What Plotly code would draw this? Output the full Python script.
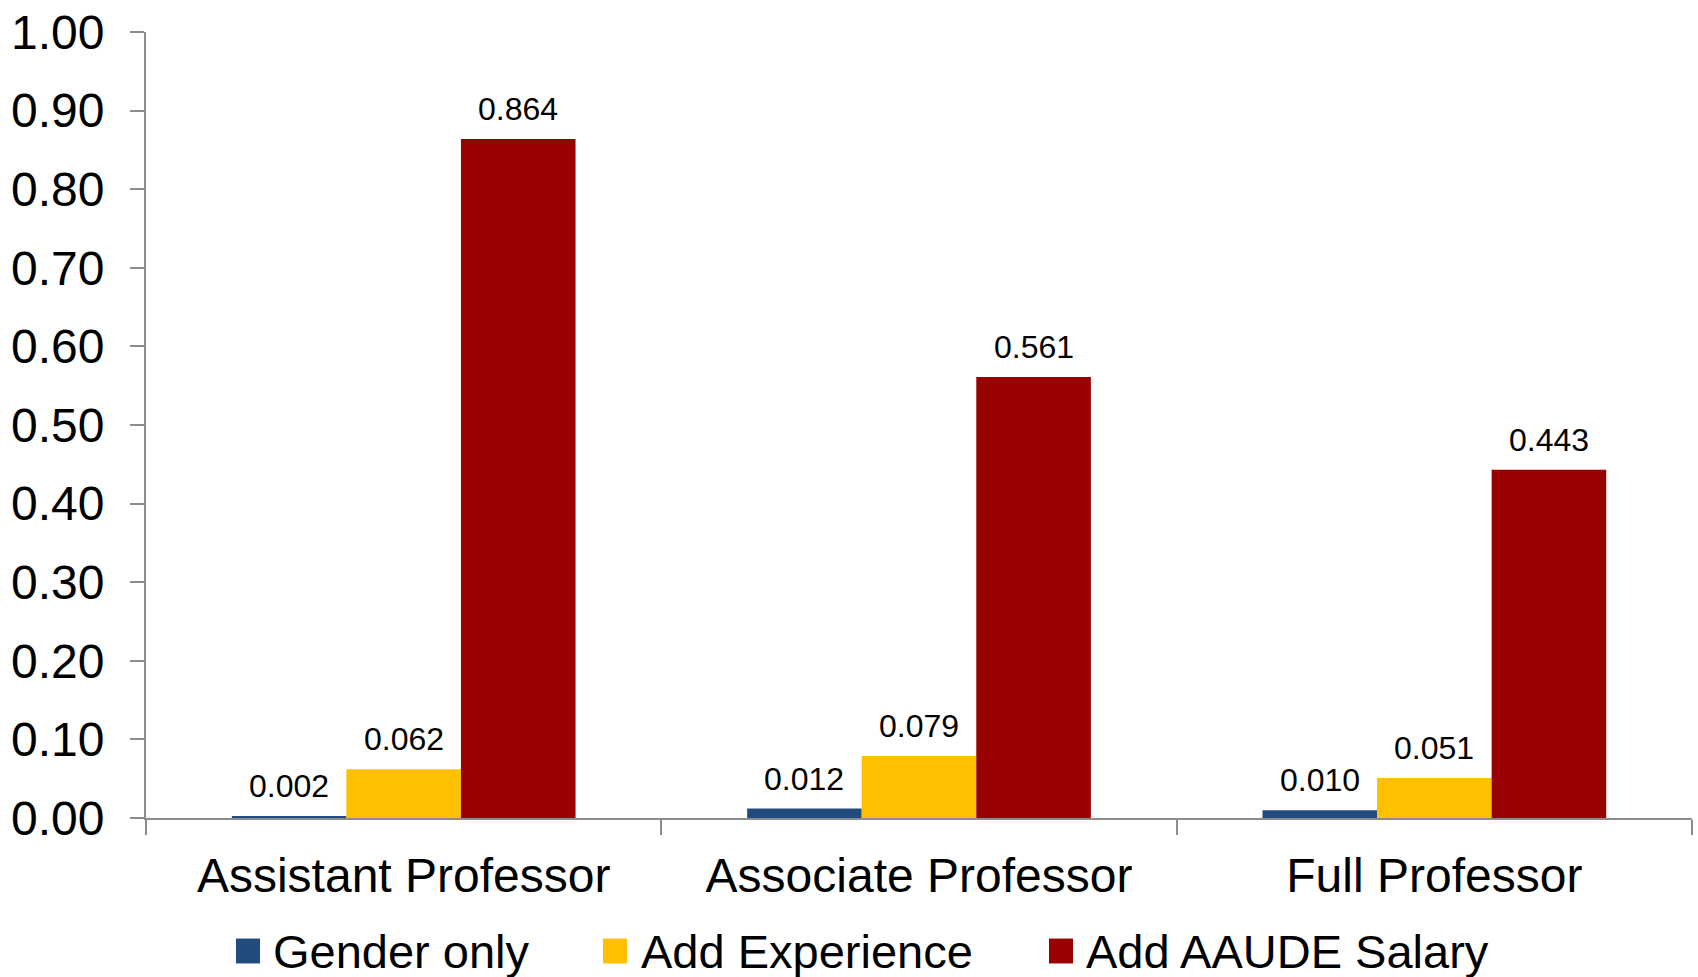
import plotly.graph_objects as go

# Ranks on the category axis
categories = ["Assistant Professor", "Associate Professor", "Full Professor"]

# Model results per rank
series_names = ["Gender only", "Add Experience", "Add AAUDE Salary"]
gender_only = [0.002, 0.012, 0.010]
add_experience = [0.062, 0.079, 0.051]
add_aaude_salary = [0.864, 0.561, 0.443]

y_tick_values = [0.0, 0.1, 0.2, 0.3, 0.4, 0.5, 0.6, 0.7, 0.8, 0.9, 1.0]
y_tick_labels = ["0.00", "0.10", "0.20", "0.30", "0.40", "0.50",
                 "0.60", "0.70", "0.80", "0.90", "1.00"]

colors = ["#234C7E", "#FFC000", "#990000"]
series_values = [gender_only, add_experience, add_aaude_salary]

FONT = "Liberation Sans, Arial, sans-serif"
W, H = 1698, 977
L, R, T, B = 146, 6, 29, 159
BARGAP = 0.333

fig = go.Figure()
for name, vals, col in zip(series_names, series_values, colors):
    fig.add_trace(go.Bar(
        x=categories, y=vals, name=name,
        marker=dict(color=col, line=dict(width=0)),
        showlegend=False,
    ))

annotations = []
shapes = []

# Value labels above each bar of the group
bar_w = (1 - BARGAP) / len(series_names)
for s, vals in enumerate(series_values):
    offset = (s - (len(series_names) - 1) / 2) * bar_w
    for c, v in enumerate(vals):
        annotations.append(dict(
            x=c + offset, y=v, xref="x", yref="y",
            text=f"{v:.3f}", showarrow=False,
            xanchor="center", yanchor="bottom", yshift=10,
            font=dict(family=FONT, size=32, color="black"),
        ))

# Legend drawn as large squares with labels below the axis
plot_w = W - L - R
plot_h = H - T - B


def px_x(p):
    return (p - L) / plot_w


def px_y(p):
    return (H - B - p) / plot_h


legend_sq_left = [236, 603, 1049]
legend_text_left = [271, 639, 1084]
sq_top, sq_bot, text_mid = 939, 964, 952
for name, col, sx, tx in zip(series_names, colors, legend_sq_left, legend_text_left):
    shapes.append(dict(type="rect", xref="paper", yref="paper",
                       x0=px_x(sx), x1=px_x(sx + 24),
                       y0=px_y(sq_bot), y1=px_y(sq_top),
                       fillcolor=col, line=dict(width=0)))
    annotations.append(dict(xref="paper", yref="paper",
                            x=px_x(tx), y=px_y(text_mid),
                            xanchor="left", yanchor="middle",
                            text=name, showarrow=False,
                            font=dict(family=FONT, size=47, color="black")))

fig.update_layout(
    width=W, height=H,
    margin=dict(l=L, r=R, t=T, b=B, pad=0),
    paper_bgcolor="white", plot_bgcolor="white",
    barmode="group", bargap=BARGAP, bargroupgap=0,
    shapes=shapes, annotations=annotations,
    showlegend=False,
    font=dict(family=FONT, color="black"),
)
fig.update_xaxes(
    showline=True, linecolor="#8C8C8C", linewidth=2,
    ticks="outside", tickson="boundaries", ticklen=15, tickcolor="#8C8C8C", tickwidth=2,
    tickfont=dict(family=FONT, size=48, color="black"),
    ticklabelstandoff=14,
    showgrid=False, zeroline=False,
)
fig.update_yaxes(
    range=[0, 1], tickvals=y_tick_values, ticktext=y_tick_labels,
    showline=True, linecolor="#8C8C8C", linewidth=2,
    ticks="outside", ticklen=14, tickcolor="#8C8C8C", tickwidth=2,
    tickfont=dict(family=FONT, size=48, color="black"),
    ticklabelstandoff=16, ticklabeloverflow="allow",
    showgrid=False, zeroline=False,
)

fig.write_html("out.html")
